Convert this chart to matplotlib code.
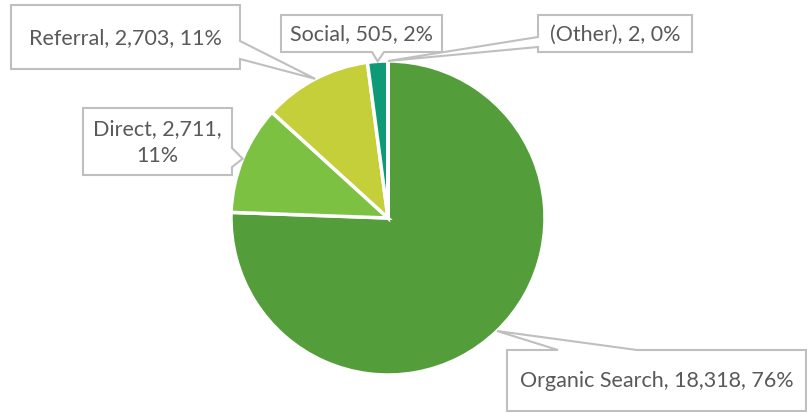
import numpy as np
import matplotlib.pyplot as plt
from matplotlib.patches import Polygon

# sessions by channel
labels = ['Organic Search', 'Direct', 'Referral', 'Social', '(Other)']
sessions = [18318, 2711, 2703, 505, 2]
colors = ['#539E3A', '#7DC142', '#C4CF3A', '#0E9A77', '#2E7D5B']

W, H = 807, 414
cx, cy, r = 388, 219, 157  # pixel coords, y down

plt.rcParams['font.family'] = ['Lato', 'DejaVu Sans']

fig = plt.figure(figsize=(W / 100, H / 100), dpi=100)
ax = fig.add_axes([0, 0, 1, 1])

wedges, _ = ax.pie(sessions, colors=colors, startangle=90, counterclock=False,
                   center=(cx, H - cy), radius=r, explode=[0.01, 0, 0, 0, 0],
                   wedgeprops=dict(edgecolor='white', linewidth=2.5))
ax.set_xlim(0, W)
ax.set_ylim(0, H)
ax.set_aspect('equal')
ax.axis('off')


def tip_of(w):
    ang = np.deg2rad((w.theta1 + w.theta2) / 2)
    x = w.center[0] + w.r * np.cos(ang)
    y = w.center[1] + w.r * np.sin(ang)
    return x, H - y


def callout(box, side, base, tip, text):
    x0, y0, x1, y1 = box
    a, b = base
    if side == 'right':
        pts = [(x0, y0), (x1, y0), (x1, a), tip, (x1, b), (x1, y1), (x0, y1)]
    elif side == 'left':
        pts = [(x0, y0), (x1, y0), (x1, y1), (x0, y1), (x0, b), tip, (x0, a)]
    elif side == 'bottom':
        pts = [(x0, y0), (x1, y0), (x1, y1), (b, y1), tip, (a, y1), (x0, y1)]
    else:
        pts = [(x0, y0), (a, y0), tip, (b, y0), (x1, y0), (x1, y1), (x0, y1)]
    ax.add_patch(Polygon([(x, H - y) for x, y in pts], closed=True,
                         fc='white', ec='#BFBFBF', lw=1.5, zorder=3))
    ax.text((x0 + x1) / 2, H - (y0 + y1) / 2, text, ha='center', va='center',
            fontsize=15.5, color='#595959', linespacing=1.45, zorder=4)


total = sum(sessions)
texts = []
for lab, v in zip(labels, sessions):
    texts.append('%s, %s, %d%%' % (lab, format(v, ','), round(v / total * 100)))
texts[1] = texts[1].replace(', 11%', ',\n11%')

# label boxes: (x0, y0, x1, y1), side of pointer, pointer base
boxes = [
    ((507, 351, 806, 412), 'top', (558, 637)),
    ((83, 109, 232, 176), 'right', (149, 168)),
    ((11, 6, 240, 70), 'right', (42, 60)),
    ((281, 16, 442, 53), 'bottom', (372, 384)),
    ((538, 16, 692, 53), 'left', (38, 48)),
]

for w, t, (box, side, base) in zip(wedges, texts, boxes):
    callout(box, side, base, tip_of(w), t)

fig.savefig('out.png', dpi=100, facecolor='white')
